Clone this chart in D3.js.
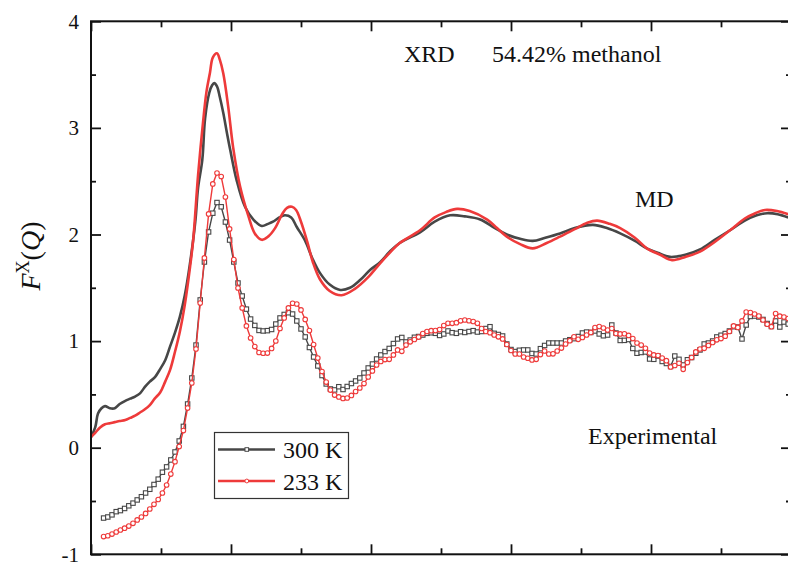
<!DOCTYPE html>
<html>
<head>
<meta charset="utf-8">
<script src="https://cdn.jsdelivr.net/npm/d3@7"></script>
<style>
  html, body { margin: 0; padding: 0; background: #fff; }
  svg { display: block; }
</style>
</head>
<body>
<svg id="chart" width="788" height="562"></svg>
<script>
// ---- Simulated (MD) structure factors, smooth curves ----
const qMD300 = [0, 0.06, 0.10, 0.15, 0.20, 0.27, 0.34, 0.41, 0.49, 0.56, 0.63, 0.70, 0.77, 0.84, 0.91, 0.99, 1.06, 1.13, 1.20, 1.27,
  1.34, 1.41, 1.49, 1.53, 1.59, 1.63, 1.69, 1.73, 1.76, 1.80, 1.84, 1.89, 1.94, 1.99, 2.08, 2.20, 2.32, 2.44, 2.53, 2.60,
  2.69, 2.77, 2.86, 2.94, 3.06, 3.16, 3.27, 3.41, 3.56, 3.70, 3.84, 3.99, 4.13, 4.27, 4.41, 4.70, 4.91, 5.13, 5.34, 5.56,
  5.77, 5.94, 6.13, 6.31, 6.49, 6.70, 6.91, 7.17, 7.37, 7.56, 7.77, 7.94, 8.13, 8.27, 8.49, 8.70, 8.91, 9.13, 9.34, 9.51,
  9.66, 9.81, 9.96];
const md300 = [0.10, 0.19, 0.32, 0.37, 0.39, 0.37, 0.37, 0.41, 0.44, 0.46, 0.48, 0.51, 0.57, 0.62, 0.66, 0.74, 0.82, 0.95, 1.08, 1.23,
  1.43, 1.71, 2.12, 2.44, 2.70, 3.09, 3.33, 3.40, 3.42, 3.39, 3.29, 3.14, 2.96, 2.79, 2.51, 2.26, 2.14, 2.08, 2.10, 2.12,
  2.16, 2.18, 2.16, 2.07, 1.94, 1.78, 1.64, 1.53, 1.48, 1.50, 1.57, 1.67, 1.74, 1.84, 1.92, 2.02, 2.12, 2.18, 2.17, 2.14,
  2.06, 2.00, 1.96, 1.94, 1.97, 2.01, 2.06, 2.09, 2.06, 2.01, 1.94, 1.87, 1.82, 1.79, 1.81, 1.86, 1.95, 2.04, 2.13, 2.18,
  2.20, 2.19, 2.16];

const qMD233 = [0, 0.06, 0.13, 0.20, 0.27, 0.34, 0.41, 0.49, 0.56, 0.63, 0.70, 0.77, 0.84, 0.91, 0.99, 1.06, 1.13, 1.20, 1.27, 1.34,
  1.41, 1.46, 1.53, 1.60, 1.65, 1.70, 1.74, 1.80, 1.84, 1.89, 1.96, 2.03, 2.13, 2.25, 2.34, 2.44, 2.53, 2.63, 2.73, 2.80,
  2.87, 2.93, 3.00, 3.09, 3.17, 3.27, 3.41, 3.58, 3.77, 3.96, 4.13, 4.27, 4.41, 4.70, 4.91, 5.07, 5.23, 5.41, 5.66, 5.80,
  5.94, 6.13, 6.31, 6.51, 6.70, 6.91, 7.09, 7.23, 7.41, 7.56, 7.77, 7.94, 8.13, 8.30, 8.49, 8.70, 8.91, 9.13, 9.34, 9.49,
  9.63, 9.80, 9.96];
const md233 = [0.10, 0.14, 0.19, 0.22, 0.23, 0.24, 0.25, 0.26, 0.28, 0.30, 0.33, 0.36, 0.40, 0.46, 0.52, 0.62, 0.73, 0.90, 1.09, 1.34,
  1.67, 1.95, 2.56, 3.05, 3.34, 3.52, 3.66, 3.70, 3.64, 3.51, 3.20, 2.82, 2.45, 2.17, 2.01, 1.95, 1.98, 2.06, 2.19, 2.25,
  2.26, 2.23, 2.12, 1.93, 1.74, 1.58, 1.47, 1.43, 1.49, 1.60, 1.73, 1.83, 1.92, 2.04, 2.16, 2.21, 2.24, 2.22, 2.14, 2.06,
  1.98, 1.91, 1.87, 1.92, 1.98, 2.05, 2.11, 2.13, 2.10, 2.06, 1.97, 1.87, 1.81, 1.76, 1.79, 1.84, 1.93, 2.04, 2.15, 2.20,
  2.23, 2.22, 2.19];

// ---- Experimental (XRD) data, regular Q grid ----
const expQStart = 0.18;
const expQStep = 0.06;
const exp300 = [
  -0.66, -0.65, -0.63, -0.60, -0.59, -0.57, -0.545, -0.52, -0.49, -0.46,
  -0.425, -0.39, -0.345, -0.295, -0.23, -0.18, -0.115, -0.04, 0.063, 0.20,
  0.41, 0.654, 0.963, 1.386, 1.742, 2.024, 2.20, 2.30, 2.26, 2.117,
  1.948, 1.742, 1.545, 1.423, 1.30, 1.207, 1.147, 1.10, 1.095, 1.098,
  1.109, 1.16, 1.217, 1.25, 1.266, 1.254, 1.189, 1.114, 1.039, 0.94,
  0.851, 0.767, 0.677, 0.598, 0.551, 0.542, 0.572, 0.546, 0.574, 0.602,
  0.626, 0.654, 0.701, 0.748, 0.785, 0.832, 0.87, 0.902, 0.931, 0.977,
  1.02, 1.034, 0.992, 1.01, 1.036, 1.043, 1.057, 1.073, 1.078, 1.073,
  1.053, 1.067, 1.095, 1.079, 1.073, 1.088, 1.081, 1.09, 1.098, 1.085,
  1.09, 1.118, 1.135, 1.073, 1.062, 1.048, 0.973, 0.921, 0.902, 0.914,
  0.917, 0.917, 0.884, 0.879, 0.929, 0.959, 0.982, 0.982, 0.982, 0.982,
  1.001, 1.013, 1.023, 1.043, 1.076, 1.085, 1.081, 1.095, 1.067, 1.05,
  1.057, 1.151, 1.076, 1.006, 1.007, 1.015, 0.931, 0.886, 0.893, 0.898,
  0.832, 0.829, 0.86, 0.809, 0.79, 0.762, 0.86, 0.829, 0.776, 0.825,
  0.846, 0.886, 0.917, 0.973, 0.982, 1.001, 1.039, 1.055, 1.071, 1.095,
  1.135, 1.132, 1.02, 1.151, 1.231, 1.235, 1.226, 1.203, 1.165, 1.137,
  1.189, 1.132, 1.179, 1.16];
const exp233 = [
  -0.834, -0.826, -0.81, -0.791, -0.772, -0.755, -0.735, -0.709, -0.678, -0.65,
  -0.617, -0.575, -0.531, -0.486, -0.425, -0.35, -0.247, -0.131, 0.011, 0.161,
  0.372, 0.607, 0.926, 1.357, 1.78, 2.193, 2.474, 2.577, 2.544, 2.352,
  2.052, 1.765, 1.498, 1.311, 1.142, 1.029, 0.949, 0.893, 0.886, 0.888,
  0.931, 1.001, 1.118, 1.217, 1.311, 1.355, 1.348, 1.292, 1.203, 1.099,
  0.968, 0.841, 0.715, 0.616, 0.541, 0.494, 0.476, 0.462, 0.466, 0.49,
  0.527, 0.56, 0.602, 0.663, 0.72, 0.776, 0.809, 0.827, 0.829, 0.87,
  0.917, 0.904, 0.963, 0.993, 1.015, 1.038, 1.071, 1.09, 1.098, 1.099,
  1.108, 1.146, 1.167, 1.167, 1.173, 1.19, 1.198, 1.191, 1.184, 1.167,
  1.118, 1.09, 1.079, 1.057, 1.04, 1.02, 0.968, 0.912, 0.879, 0.879,
  0.851, 0.839, 0.823, 0.829, 0.874, 0.907, 0.879, 0.881, 0.907, 0.935,
  0.973, 1.004, 1.041, 1.017, 1.034, 1.057, 1.081, 1.127, 1.137, 1.123,
  1.104, 1.118, 1.071, 1.067, 1.069, 1.053, 1.024, 0.982, 0.963, 0.932,
  0.888, 0.87, 0.865, 0.841, 0.816, 0.757, 0.771, 0.792, 0.735, 0.799,
  0.846, 0.898, 0.926, 0.932, 0.959, 0.987, 1.012, 1.024, 1.046, 1.09,
  1.142, 1.128, 1.189, 1.273, 1.268, 1.254, 1.235, 1.198, 1.158, 1.135,
  1.259, 1.234, 1.226, 1.212];

// ---- Axis ticks and labels ----
const xMajor = [0, 2, 4, 6, 8, 10];
const xMinor = [1, 3, 5, 7, 9];
const yMajor = [-1, 0, 1, 2, 3, 4];
const yMinor = [-0.5, 0.5, 1.5, 2.5, 3.5];
const seriesNames = ["300 K", "233 K"];
const titleLeft = "XRD";
const titleRight = "54.42% methanol";
const labelMD = "MD";
const labelExp = "Experimental";

const serif = '"Liberation Serif", "DejaVu Serif", "Times New Roman", serif';
const colGray = "#474747";
const colRed = "#ee3a3a";

const svg = d3.select("#chart");
svg.append("rect").attr("width", 788).attr("height", 562).attr("fill", "#fff");

const x = d3.scaleLinear().domain([0, 10]).range([91, 791]);
const y = d3.scaleLinear().domain([-1, 4]).range([554.3, 21.3]);

const expQ = exp300.map((_, i) => +(expQStart + i * expQStep).toFixed(3));

// ---- Curves ----
const smooth = d3.line().x(d => x(d[0])).y(d => y(d[1])).curve(d3.curveCatmullRom.alpha(0.5));
const straight = d3.line().x(d => x(d[0])).y(d => y(d[1]));

const plot = svg.append("g");

function drawMD(qs, vs, color) {
  plot.append("path")
    .datum(qs.map((q, i) => [q, vs[i]]))
    .attr("d", smooth)
    .attr("fill", "none")
    .attr("stroke", color)
    .attr("stroke-width", 2.6)
    .attr("stroke-linejoin", "round");
}

function drawExp(vs, color, shape) {
  const pts = expQ.map((q, i) => [q, vs[i]]);
  plot.append("path")
    .datum(pts)
    .attr("d", straight)
    .attr("fill", "none")
    .attr("stroke", color)
    .attr("stroke-width", 1.4);
  const g = plot.append("g");
  if (shape === "square") {
    g.selectAll("rect").data(pts).join("rect")
      .attr("x", d => x(d[0]) - 2.2).attr("y", d => y(d[1]) - 2.2)
      .attr("width", 4.4).attr("height", 4.4)
      .attr("fill", "#fff").attr("stroke", color).attr("stroke-width", 1.1);
  } else {
    g.selectAll("circle").data(pts).join("circle")
      .attr("cx", d => x(d[0])).attr("cy", d => y(d[1])).attr("r", 2.3)
      .attr("fill", "#fff").attr("stroke", color).attr("stroke-width", 1.1);
  }
}

drawExp(exp300, colGray, "square");
drawExp(exp233, colRed, "circle");
drawMD(qMD300, md300, colGray);
drawMD(qMD233, md233, colRed);

// ---- Frame and ticks (all ticks point inward) ----
function styleAxis(g) {
  g.select(".domain").remove();
  g.selectAll(".tick line").attr("stroke", "#111").attr("stroke-width", 1.8);
}

svg.append("g").attr("transform", "translate(91,0)")
  .call(d3.axisLeft(y).tickValues(yMajor).tickSize(-10).tickPadding(12).tickFormat(d => String(d)))
  .call(styleAxis)
  .call(g => g.selectAll("text").attr("font-size", 21).attr("fill", "#111")
    .style("font-family", serif));
svg.append("g").attr("transform", "translate(91,0)")
  .call(d3.axisLeft(y).tickValues(yMinor).tickSize(-5).tickFormat(""))
  .call(styleAxis);
svg.append("g").attr("transform", "translate(791,0)")
  .call(d3.axisRight(y).tickValues(yMajor).tickSize(-10).tickFormat(""))
  .call(styleAxis);
svg.append("g").attr("transform", "translate(791,0)")
  .call(d3.axisRight(y).tickValues(yMinor).tickSize(-5).tickFormat(""))
  .call(styleAxis);
svg.append("g").attr("transform", "translate(0,554.3)")
  .call(d3.axisBottom(x).tickValues(xMajor).tickSize(-10).tickFormat(""))
  .call(styleAxis);
svg.append("g").attr("transform", "translate(0,554.3)")
  .call(d3.axisBottom(x).tickValues(xMinor).tickSize(-6).tickFormat(""))
  .call(styleAxis);
svg.append("g").attr("transform", "translate(0,21.3)")
  .call(d3.axisTop(x).tickValues(xMajor).tickSize(-10).tickFormat(""))
  .call(styleAxis);
svg.append("g").attr("transform", "translate(0,21.3)")
  .call(d3.axisTop(x).tickValues(xMinor).tickSize(-6).tickFormat(""))
  .call(styleAxis);

svg.append("rect")
  .attr("x", x(0)).attr("y", y(4))
  .attr("width", x(10) - x(0)).attr("height", y(-1) - y(4))
  .attr("fill", "none").attr("stroke", "#111").attr("stroke-width", 2);

// ---- Axis title F^X(Q) ----
const yTitle = svg.append("text")
  .attr("transform", "translate(40,256) rotate(-90)")
  .attr("text-anchor", "middle")
  .attr("font-size", 28)
  .attr("fill", "#111")
  .style("font-family", serif);
yTitle.append("tspan").attr("font-style", "italic").text("F");
yTitle.append("tspan").attr("font-size", 18).attr("dy", -11).text("X");
yTitle.append("tspan").attr("dy", 11).text("(");
yTitle.append("tspan").attr("font-style", "italic").text("Q");
yTitle.append("tspan").text(")");

// ---- Annotations ----
function note(px, py, str) {
  svg.append("text").attr("x", px).attr("y", py).attr("font-size", 24)
    .attr("fill", "#111").style("font-family", serif).text(str);
}
note(404, 62, titleLeft);
note(492, 62, titleRight);
note(635, 207, labelMD);
note(588, 444, labelExp);

// ---- Legend ----
const legend = svg.append("g");
legend.append("rect")
  .attr("x", 214.5).attr("y", 432.5).attr("width", 134).attr("height", 66)
  .attr("fill", "#fff").attr("stroke", "#333").attr("stroke-width", 1.2);
const legendRows = [
  { name: seriesNames[0], color: colGray, shape: "square", yy: 449.5 },
  { name: seriesNames[1], color: colRed, shape: "circle", yy: 481 }
];
legendRows.forEach(r => {
  legend.append("line").attr("x1", 218).attr("x2", 275).attr("y1", r.yy).attr("y2", r.yy)
    .attr("stroke", r.color).attr("stroke-width", 2.6);
  if (r.shape === "square") {
    legend.append("rect").attr("x", 245).attr("y", r.yy - 1.8).attr("width", 3.6).attr("height", 3.6)
      .attr("fill", "#fff").attr("stroke", r.color).attr("stroke-width", 1);
  } else {
    legend.append("circle").attr("cx", 246.8).attr("cy", r.yy).attr("r", 1.9)
      .attr("fill", "#fff").attr("stroke", r.color).attr("stroke-width", 1);
  }
  legend.append("text").attr("x", 283).attr("y", r.yy + 8.5).attr("font-size", 24)
    .attr("fill", "#111").style("font-family", serif).text(r.name);
});
</script>
</body>
</html>
